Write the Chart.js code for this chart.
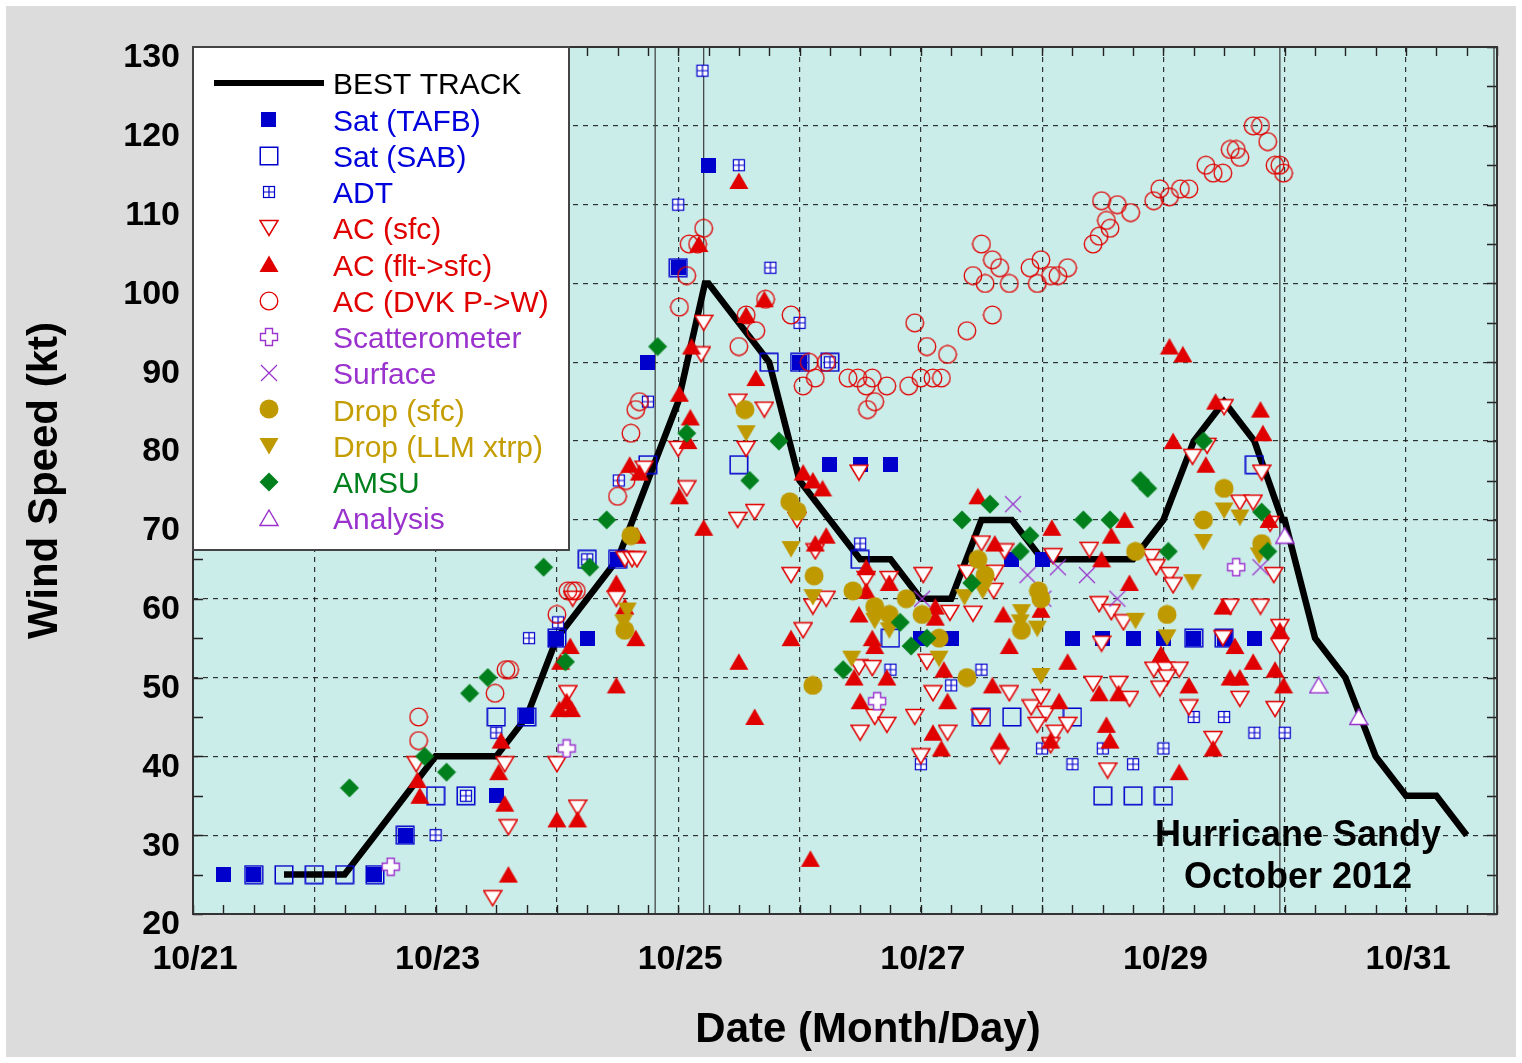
<!DOCTYPE html>
<html><head><meta charset="utf-8">
<script src="https://cdn.jsdelivr.net/npm/chart.js@4.4.1/dist/chart.umd.min.js"></script>
<style>html,body{margin:0;padding:0;background:#ffffff;}#wrap{width:1522px;height:1063px;}</style>
</head><body><div id="wrap"><canvas id="c" width="1522" height="1063"></canvas></div>
<script>
const FONT = "'Liberation Sans', Arial, Helvetica, sans-serif";

// ---------------- DATA (x = day of October 2012, y = kt) ----------------
const xTickDays = [21, 23, 25, 27, 29, 31];
const xTickLabels = ['10/21', '10/23', '10/25', '10/27', '10/29', '10/31'];
const landfallDays = [24.81, 25.21, 29.96];

const bestTrackDay = [21.75,22,22.25,22.5,22.75,23,23.25,23.5,23.75,24,24.25,24.5,24.75,25,25.22,25.25,25.5,25.75,26,26.25,26.5,26.75,27,27.25,27.5,27.75,28,28.25,28.5,28.75,29,29.25,29.5,29.75,29.98,30,30.25,30.5,30.75,31,31.25,31.5];
const bestTrackKt  = [25,25,25,30,35,40,40,40,45,55,60,65,75,85,100,100,95,90,75,70,65,65,60,60,70,70,65,65,65,65,70,80,85,80,70,70,55,50,40,35,35,30];

const tafbDay = [21.25,21.5,22.5,22.75,23.5,23.75,24.0,24.25,24.5,24.75,25.0,25.25,26.0,26.25,26.5,26.75,27.0,27.25,27.75,28.0,28.25,28.5,28.75,29.0,29.25,29.5,29.75];
const tafbKt  = [25,25,25,30,35,45,55,55,65,90,102,115,90,77,77,77,55,55,65,65,55,55,55,55,55,55,55];

const sabDay = [21.5,21.75,22.0,22.25,22.5,22.75,23.0,23.25,23.5,23.75,24.0,24.25,24.5,24.75,25.0,25.5,25.75,26.0,26.25,26.5,26.75,27.5,27.75,28.25,28.5,28.75,29.0,29.25,29.5,29.75];
const sabKt  = [25,25,25,25,25,30,35,35,45,45,55,65,65,77,102,77,90,90,90,65,55,45,45,45,35,35,35,55,55,77];

const adtDay = [23.0,23.25,23.5,23.77,24.01,24.25,24.51,24.75,25.0,25.2,25.5,25.76,26.0,26.25,26.5,26.75,27.0,27.25,27.5,28.0,28.25,28.5,28.75,29.0,29.25,29.5,29.75,30.0];
const adtKt  = [30,35,43,55,57,65,75,85,110,127,115,102,95,90,67,51,39,49,51,41,39,41,39,41,45,45,43,43];

const acSfcDay = [22.84,23.47,23.57,23.60,24.00,24.09,24.13,24.17,24.49,24.56,24.62,24.66,24.72,25.00,25.07,25.19,25.21,25.49,25.56,25.71,25.49,25.63,25.98,26.13,25.93,26.11,26.22,26.03,26.49,26.55,26.74,27.02,26.49,26.60,27.05,27.10,26.62,26.72,26.95,26.50,27.00,27.22,27.24,27.43,27.50,27.69,27.38,27.61,27.60,28.09,28.39,27.91,27.99,28.03,27.96,28.11,28.21,27.73,27.49,27.65,28.07,28.47,28.57,28.67,28.49,28.42,28.63,28.72,28.54,28.90,28.94,29.05,29.08,28.92,29.02,29.13,29.03,28.97,29.21,29.41,29.55,29.80,29.63,29.49,29.24,29.36,29.50,29.81,29.63,29.74,29.88,29.91,29.96,29.96,29.92];
const acSfcKt  = [39,22,39,31,39,48,60,33.5,60,65,65,65,76.5,79,74,91,95,85,79,84,70,71,70,66,63,59,60,56,76,62.5,62.5,63,51.3,51.2,52,48,45,44,45,43,40,43,58.2,58.1,67,66,63.3,63.3,61,65.4,66.2,46.2,47.5,45.4,44,43,44,48,45,40,41.4,59.3,58.3,57,54.3,49.2,49.2,47.3,38.2,65.3,64,63,61.7,51,51,51,50,48.6,46.2,42.2,59,59,47.3,55,78,79.4,84.3,76,72.2,72.2,69.5,63,56.4,54,46];

const acFltDay = [22.85,22.87,23.54,23.52,23.57,23.60,24.00,24.17,24.02,24.08,24.12,24.49,24.03,24.11,24.65,24.56,24.49,24.66,24.60,24.68,25.01,25.10,25.08,25.01,25.21,25.17,25.50,25.71,25.56,25.64,25.11,25.50,25.63,25.93,26.03,26.11,26.19,26.13,26.22,26.09,26.55,26.55,26.74,26.49,26.60,26.62,26.45,26.72,26.50,27.22,27.19,27.12,27.12,27.10,27.17,27.47,27.61,28.08,28.68,28.57,28.49,28.72,27.99,27.68,27.73,28.21,27.59,28.14,27.65,28.07,28.47,28.63,28.53,28.56,28.98,29.21,29.13,29.41,29.49,29.59,29.74,29.55,29.63,29.05,29.16,29.43,29.80,29.82,29.08,29.35,29.87,29.96,29.92,29.99];
const acFltKt  = [37,35,42,38,34,25,32,32,46,47,46,49,52,54,55,59,62,68,77,76,86,83,80,73,69,105,113,98,96,88,92,52,45,55,76,75,74,67,68,27,64,61,62,58,55,54,50,50,47,47,51,59,57.6,43,41,73,67,69,70,68,65,62,58.6,58,54,52,49,47,42,42,48,48,44,42,53,49,38,41,59,54,52,50,50,92,91,85,84,81,80,77,70,56,51,49];

const dvkDay = [22.86,22.86,23.49,23.58,23.61,24.00,24.09,24.13,24.16,24.50,24.57,24.61,24.65,24.68,25.01,25.07,25.09,25.16,25.21,25.50,25.56,25.64,25.72,25.93,26.03,26.08,26.13,26.22,26.40,26.48,26.55,26.60,26.72,26.62,26.56,26.90,27.00,27.10,27.17,26.95,27.05,27.22,27.38,27.43,27.50,27.59,27.65,27.53,27.73,27.59,27.90,27.99,27.96,28.07,28.13,28.21,28.42,28.47,28.53,28.56,28.49,28.62,28.73,28.92,28.97,29.05,29.14,29.21,29.35,29.41,29.49,29.55,29.60,29.63,29.74,29.80,29.86,29.92,29.96,29.99];
const dvkKt  = [45,42,48,51,51,58,61,61,61,73,75,81,84,85,97,101,105,105,107,92,96,94,98,96,87,90,88,90,88,88,87,88,87,85,84,87,88,88,88,95,92,91,94,101,105,103,102,100,100,96,102,103,100,101,101,102,105,106,108,107,110.5,110,109,110.5,112,111,112,112,115,114,114,117,117,116,120,120,118,115,115,114];

const scatDay = [22.63, 24.08, 26.64, 29.60];
const scatKt  = [26, 41, 47, 64];

const surfDay = [27.01, 27.76, 27.88, 28.13, 28.37, 28.62, 28.01, 29.80];
const surfKt  = [60, 72, 63, 64, 63, 60, 60, 64];

const dropSfcDay = [24.56,24.61,25.55,25.92,25.98,26.12,26.11,26.44,26.62,26.74,26.88,27.01,27.15,27.38,27.47,27.53,27.97,27.99,27.83,28.77,29.03,29.33,29.50,29.81];
const dropSfcKt  = [56,68,84,72.3,71.1,62.9,49,61,59,58,60,58,55,50,65,63,61,60,56,66,58,70,74,67];

const dropLlmDay = [24.55,24.58,25.56,25.93,26.11,26.43,26.62,26.74,27.15,27.36,27.51,27.83,27.82,27.96,27.99,28.77,29.03,29.24,29.33,29.50,29.63,29.79];
const dropLlmKt  = [57,58.5,81,66.3,60.2,52.4,57.2,56,52.4,60.2,61,58.3,57,56.2,50.2,57.2,55.1,62.1,67.2,71.2,70.3,65.5];

const amsuDay = [22.29,22.91,23.09,23.28,23.43,23.89,24.07,24.27,24.41,24.83,25.07,25.59,25.83,26.36,26.83,26.92,27.05,27.34,27.42,27.57,27.82,27.90,28.34,28.56,28.81,28.87,29.04,29.33,29.81,29.86];
const amsuKt  = [36,40,38,48,50,64,52,64,70,92,81,75,80,51,57,54,55,70,62,72,66,68,70,70,75,74,66,80,71,66];

const analysisDay = [30.0, 30.28, 30.61];
const analysisKt  = [68, 49, 45];

// ---------------- STYLES ----------------
const COL = {blue:'#0000cc', red:'#e00000', purple:'#9a32cd', gold:'#bf9900', green:'#00801c'};
const TXT = {black:'#000000', blue:'#0000dd', red:'#e00000', purple:'#9a32cd', gold:'#c49d00', green:'#00801c'};

function marker(w, h, draw) {
  const c = document.createElement('canvas'); c.width = w; c.height = h;
  draw(c.getContext('2d'), w, h); return c;
}
const M = {
  tafb: marker(15,15,g=>{g.fillStyle=COL.blue; g.fillRect(0,0,15,15);}),
  sab: marker(20,20,g=>{g.strokeStyle=COL.blue; g.lineWidth=1.5; g.strokeRect(1.25,1.25,17.5,17.5);}),
  adt: marker(14,14,g=>{g.fillStyle='#fff'; g.fillRect(1,1,12,12); g.strokeStyle=COL.blue; g.lineWidth=1.2;
        g.strokeRect(1.5,1.5,11,11); g.beginPath(); g.moveTo(7,1.5); g.lineTo(7,12.5); g.moveTo(1.5,7); g.lineTo(12.5,7); g.stroke();}),
  acSfc: marker(20,18,g=>{g.beginPath(); g.moveTo(1,1.5); g.lineTo(19,1.5); g.lineTo(10,16.5); g.closePath();
        g.fillStyle='#fff'; g.fill(); g.strokeStyle=COL.red; g.lineWidth=1.5; g.stroke();}),
  acFlt: marker(20,18,g=>{g.beginPath(); g.moveTo(10,0.5); g.lineTo(19.5,17); g.lineTo(0.5,17); g.closePath(); g.fillStyle=COL.red; g.fill();}),
  dvk: marker(20,20,g=>{g.beginPath(); g.arc(10,10,8.8,0,Math.PI*2); g.strokeStyle=COL.red; g.lineWidth=1.3; g.stroke();}),
  scat: marker(20,20,g=>{const a=6.5,b=13.5; g.beginPath(); g.moveTo(a,1.5); g.lineTo(b,1.5); g.lineTo(b,a); g.lineTo(18.5,a); g.lineTo(18.5,b);
        g.lineTo(b,b); g.lineTo(b,18.5); g.lineTo(a,18.5); g.lineTo(a,b); g.lineTo(1.5,b); g.lineTo(1.5,a); g.lineTo(a,a); g.closePath();
        g.fillStyle='#fff'; g.fill(); g.strokeStyle=COL.purple; g.lineWidth=1.4; g.stroke();}),
  surf: marker(20,20,g=>{g.beginPath(); g.moveTo(2,2); g.lineTo(18,18); g.moveTo(18,2); g.lineTo(2,18); g.strokeStyle=COL.purple; g.lineWidth=1.2; g.stroke();}),
  dropSfc: marker(20,20,g=>{g.beginPath(); g.arc(10,10,9.5,0,Math.PI*2); g.fillStyle=COL.gold; g.fill();}),
  dropLlm: marker(20,18,g=>{g.beginPath(); g.moveTo(0.5,1); g.lineTo(19.5,1); g.lineTo(10,17.5); g.closePath(); g.fillStyle=COL.gold; g.fill();}),
  amsu: marker(20,20,g=>{g.beginPath(); g.moveTo(10,0.5); g.lineTo(19.5,10); g.lineTo(10,19.5); g.lineTo(0.5,10); g.closePath(); g.fillStyle=COL.green; g.fill();}),
  analysis: marker(20,18,g=>{g.beginPath(); g.moveTo(10,1); g.lineTo(19,16.5); g.lineTo(1,16.5); g.closePath();
        g.fillStyle='#fff'; g.fill(); g.strokeStyle=COL.purple; g.lineWidth=1.4; g.stroke();})
};

const series = [
  {label:'Sat (TAFB)', day:tafbDay, kt:tafbKt, m:'tafb', color:TXT.blue},
  {label:'Sat (SAB)', day:sabDay, kt:sabKt, m:'sab', color:TXT.blue},
  {label:'ADT', day:adtDay, kt:adtKt, m:'adt', color:TXT.blue},
  {label:'AC (sfc)', day:acSfcDay, kt:acSfcKt, m:'acSfc', color:TXT.red},
  {label:'AC (flt->sfc)', day:acFltDay, kt:acFltKt, m:'acFlt', color:TXT.red},
  {label:'AC (DVK P->W)', day:dvkDay, kt:dvkKt, m:'dvk', color:TXT.red},
  {label:'Scatterometer', day:scatDay, kt:scatKt, m:'scat', color:TXT.purple},
  {label:'Surface', day:surfDay, kt:surfKt, m:'surf', color:TXT.purple},
  {label:'Drop (sfc)', day:dropSfcDay, kt:dropSfcKt, m:'dropSfc', color:TXT.gold},
  {label:'Drop (LLM xtrp)', day:dropLlmDay, kt:dropLlmKt, m:'dropLlm', color:TXT.gold},
  {label:'AMSU', day:amsuDay, kt:amsuKt, m:'amsu', color:TXT.green},
  {label:'Analysis', day:analysisDay, kt:analysisKt, m:'analysis', color:TXT.purple}
];

const pts = (d, k) => d.map((v, i) => ({x: v, y: k[i]}));

const datasets = [];
landfallDays.forEach(d => datasets.push({type:'line', label:'landfall', data:[{x:d,y:20},{x:d,y:130}],
  borderColor:'#3a3a3a', borderWidth:1.2, pointRadius:0, order:200}));
datasets.push({type:'line', label:'BEST TRACK', data:pts(bestTrackDay, bestTrackKt), borderColor:'#000', borderWidth:6.5,
  pointRadius:0, tension:0, borderJoinStyle:'miter', order:150});
series.forEach((s, i) => datasets.push({type:'scatter', label:s.label, data:pts(s.day, s.kt), pointStyle:M[s.m],
  pointRadius:9, pointHoverRadius:9, showLine:false, order:100 - i}));

const decor = {
  id:'decor',
  beforeDraw(chart) {
    const {ctx, chartArea:a, width, height} = chart;
    ctx.save();
    ctx.fillStyle = '#ffffff'; ctx.fillRect(0, 0, width, height);
    ctx.fillStyle = '#dcdcdc'; ctx.fillRect(6, 6, width - 12, height - 12);
    ctx.fillStyle = '#cbede9'; ctx.fillRect(a.left, a.top, a.right - a.left, a.bottom - a.top);
    ctx.restore();
  },
  afterDraw(chart) {
    const {ctx, chartArea:a, scales:{x, y}} = chart;
    ctx.save();
    // inward minor ticks
    ctx.strokeStyle = '#222'; ctx.lineWidth = 1.4; ctx.beginPath();
    for (let d = x.min; d <= x.max + 1e-6; d += 0.25) {
      const px = Math.round(x.getPixelForValue(d)) + 0.5;
      ctx.moveTo(px, a.bottom); ctx.lineTo(px, a.bottom - 9);
      ctx.moveTo(px, a.top); ctx.lineTo(px, a.top + 9);
    }
    for (let k = y.min; k <= y.max; k += 5) {
      const py = Math.round(y.getPixelForValue(k)) + 0.5;
      ctx.moveTo(a.left, py); ctx.lineTo(a.left + 10, py);
      ctx.moveTo(a.right, py); ctx.lineTo(a.right - 10, py);
    }
    ctx.stroke();
    // frame
    ctx.strokeStyle = '#333'; ctx.lineWidth = 2;
    ctx.strokeRect(a.left, a.top, a.right - a.left, a.bottom - a.top);
    ctx.lineWidth = 1.2; ctx.beginPath(); ctx.moveTo(a.right - 3, a.top); ctx.lineTo(a.right - 3, a.bottom); ctx.stroke();
    // legend
    const lx = a.left, ly = a.top, lw = 376, lh = 503;
    ctx.fillStyle = '#fff'; ctx.fillRect(lx, ly, lw, lh);
    ctx.strokeStyle = '#444'; ctx.lineWidth = 2; ctx.strokeRect(lx, ly, lw, lh);
    ctx.font = '30px ' + FONT; ctx.textBaseline = 'middle'; ctx.textAlign = 'left';
    const items = [{label:'BEST TRACK', color:TXT.black, line:true}].concat(series);
    items.forEach((it, i) => {
      const cy = ly + 36 + i * 36.25;
      if (it.line) {
        ctx.strokeStyle = '#000'; ctx.lineWidth = 6; ctx.beginPath();
        ctx.moveTo(lx + 21, cy); ctx.lineTo(lx + 131, cy); ctx.stroke();
      } else {
        const mk = M[it.m];
        ctx.drawImage(mk, Math.round(lx + 75.5 - mk.width / 2), Math.round(cy - mk.height / 2));
      }
      ctx.fillStyle = it.color; ctx.fillText(it.label, lx + 140, cy + 3);
    });
    // titles and annotation
    ctx.fillStyle = '#000'; ctx.textAlign = 'center'; ctx.textBaseline = 'middle';
    ctx.font = 'bold 42px ' + FONT;
    ctx.fillText('Date (Month/Day)', 868, 1030);
    ctx.save(); ctx.translate(45, (a.top + a.bottom) / 2); ctx.rotate(-Math.PI / 2);
    ctx.fillText('Wind Speed (kt)', 0, 0); ctx.restore();
    ctx.font = 'bold 36px ' + FONT;
    ctx.fillText('Hurricane Sandy', 1298, 836);
    ctx.fillText('October 2012', 1298, 878);
    ctx.restore();
  }
};

const gridOpts = {color:'rgba(30,30,30,0.9)', lineWidth:1.2, drawTicks:false};
new Chart(document.getElementById('c'), {
  type:'scatter',
  data:{datasets},
  options:{
    responsive:false, devicePixelRatio:1, animation:false, events:[],
    layout:{padding:{left:0, top:47, right:25, bottom:0}},
    plugins:{legend:{display:false}, tooltip:{enabled:false}},
    scales:{
      x:{type:'linear', min:21, max:31.75,
         afterFit(s){ s.height = 149; },
         ticks:{stepSize:1, includeBounds:false, autoSkip:false, maxRotation:0, minRotation:0, padding:25, labelOffset:2,
                color:'#000', font:{family:FONT, size:34, weight:'bold'},
                callback:(v) => { const i = xTickDays.indexOf(v); return i >= 0 ? xTickLabels[i] : ''; }},
         grid:gridOpts, border:{display:false, dash:[5,5]}},
      y:{type:'linear', min:20, max:130,
         afterFit(s){ s.width = 193; },
         ticks:{stepSize:10, padding:13, labelOffset:11, color:'#000', font:{family:FONT, size:34, weight:'bold'}},
         grid:gridOpts, border:{display:false, dash:[5,5]}}
    }
  },
  plugins:[decor]
});
</script></body></html>
